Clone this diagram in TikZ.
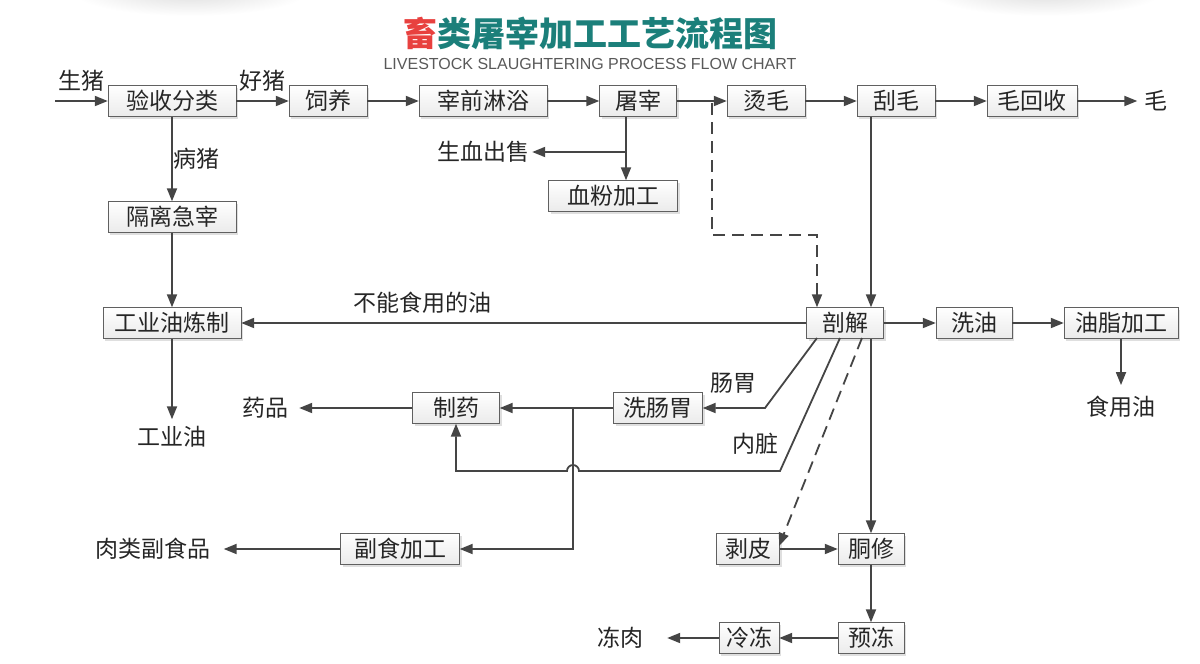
\documentclass[tikz,border=0pt]{standalone}
\usepackage{fontspec}
\usepackage{tikz}
\usetikzlibrary{positioning,shapes,shadows,arrows.meta}
\usepackage{xcolor}
\setmainfont{Noto Sans CJK SC}
\newfontfamily\latinsans{Liberation Sans}
\definecolor{linegray}{HTML}{454545}
\definecolor{titleteal}{HTML}{1B7F7A}
\definecolor{titlered}{HTML}{E8413F}
\tikzstyle{proc}=[rectangle, draw=gray!75!black, top color=white, bottom color=gray!16,
drop shadow={shadow xshift=2pt, shadow yshift=-2pt, opacity=.25},
minimum height=31pt, inner sep=0pt, text=black!85, font=\fontsize{23}{23}\selectfont]
\tikzstyle{endtext}=[inner sep=7pt, text=black!85, font=\fontsize{23}{23}\selectfont]
\tikzstyle{lbl}=[text=black!85, font=\fontsize{23}{23}\selectfont]
\tikzstyle{flow}=[draw=linegray, line width=1.8pt, -{Triangle[length=13pt,width=10pt]}]
\tikzstyle{dflow}=[flow, dash pattern=on 12pt off 7pt]

\begin{document}
\begin{tikzpicture}[x=1pt,y=-1pt]
\useasboundingbox (0,0) rectangle (1200,664);
% faint shadows on top
\shade[inner color=gray!28, outer color=white] (190,-10) ellipse [x radius=120, y radius=26];
\shade[inner color=gray!28, outer color=white] (1045,-10) ellipse [x radius=120, y radius=26];

% title
\node (title) at (590,33) {\fontsize{34}{34}\selectfont\bfseries
  \textcolor{titlered}{畜}\textcolor{titleteal}{类屠宰加工工艺流程图}};
\node (subtitle) at (590,64) {\latinsans\fontsize{16}{16}\selectfont\color{black!65}
  LIVESTOCK SLAUGHTERING PROCESS FLOW CHART};

% main line
\node (check)[proc, minimum width=128pt] at (172,101) {验收分类};
\node (feed)[proc, minimum width=78pt] at (328,101) {饲养};
\node (shower)[proc, minimum width=128pt] at (483,101) {宰前淋浴};
\node (kill)[proc, minimum width=77pt] at (638,101) {屠宰};
\node (scald)[proc, minimum width=78pt] at (766,101) {烫毛};
\node (scrape)[proc, minimum width=78pt] at (896,101) {刮毛};
\node (hairrec)[proc, minimum width=90pt] at (1032,101) {毛回收};
\node (hair)[endtext] at (1156,101) {毛};

% blood
\node (blood)[endtext, inner sep=3pt] at (483,152) {生血出售};
\node (bloodmeal)[proc, minimum width=129pt] at (613,196) {血粉加工};

% sick pigs
\node (isolate)[proc, minimum width=128pt] at (172,217) {隔离急宰};
\node (indoil)[proc, minimum width=138pt] at (172,323) {工业油炼制};
\node (indoilout)[endtext] at (172,437) {工业油};

% splitting
\node (split)[proc, minimum width=77pt] at (845,323) {剖解};
\node (washoil)[proc, minimum width=76pt] at (974,323) {洗油};
\node (fatproc)[proc, minimum width=114pt] at (1121,323) {油脂加工};
\node (edible)[endtext, inner sep=11pt] at (1121,407) {食用油};

% offal
\node (washgut)[proc, minimum width=89pt] at (658,408) {洗肠胃};
\node (pharma)[proc, minimum width=87pt] at (456,408) {制药};
\node (drugs)[endtext, inner sep=11pt] at (265,408) {药品};
\node (offalfood)[proc, minimum width=119pt] at (400,549) {副食加工};
\node (byprod)[endtext, inner sep=13pt] at (153,549) {肉类副食品};

% carcass
\node (peel)[proc, minimum width=63pt] at (748,549) {剥皮};
\node (trim)[proc, minimum width=66pt] at (871,549) {胴修};
\node (prefreeze)[proc, minimum width=66pt] at (871,638) {预冻};
\node (freeze)[proc, minimum width=60pt] at (749,638) {冷冻};
\node (frozen)[endtext, inner sep=24pt] at (620,638) {冻肉};

% bends
\coordinate (pig) at (55,101);
\coordinate (kb) at (626,152);
\coordinate (d0) at (712,103);
\coordinate (d1) at (712,235);
\coordinate (d2) at (817,235);
\coordinate (g0) at (817,338);
\coordinate (g1) at (765,408);
\coordinate (v0) at (840,338);
\coordinate (v1) at (780,471);
\coordinate (jn) at (573,408);
\coordinate (jump) at (579,471);
\coordinate (s0) at (862,338);
\coordinate (s1) at (779,546);

% connectors
\draw[flow] (pig) -- node[lbl, above=5pt]{生猪} (check);
\draw[flow] (check) -- node[lbl, above=5pt]{好猪} (feed);
\draw[flow] (feed) -- (shower);
\draw[flow] (shower) -- (kill);
\draw[flow] (kill) -- (scald);
\draw[flow] (scald) -- (scrape);
\draw[flow] (scrape) -- (hairrec);
\draw[flow] (hairrec) -- (hair);
\draw[flow] (kb |- kill.south) -- (kb |- bloodmeal.north);
\draw[flow] (kb) -- (blood);
\draw[flow] (check) -- node[lbl, right, inner sep=1pt]{病猪} (isolate);
\draw[flow] (isolate) -- (indoil);
\draw[flow] (indoil) -- (indoilout);
\draw[dflow] (d0) -- (d1) -- (d2) -- (split.north -| d2);
\draw[flow] (scrape.south -| trim) -- (split.north -| trim);
\draw[flow] (split) -- node[lbl, above=5pt, pos=.68]{不能食用的油} (indoil);
\draw[flow] (split) -- (washoil);
\draw[flow] (washoil) -- (fatproc);
\draw[flow] (fatproc) -- (edible);
\draw[flow] (g0) -- (g1) -- (washgut);
\node[lbl] at (733,383) {肠胃};
\draw[flow] (washgut) -- (pharma);
\draw[flow] (jn) |- (offalfood);
\draw[flow] (pharma) -- (drugs);
\draw[flow] (v0) -- (v1) -- (jump) arc [start angle=0, end angle=180, radius=6pt]
  -- (pharma |- v1) -- (pharma);
\node[lbl] at (755,444) {内脏};
\draw[dflow] (s0) -- (s1);
\draw[flow] (split.south -| trim) -- (trim);
\draw[flow] (peel) -- (trim);
\draw[flow] (trim) -- (prefreeze);
\draw[flow] (prefreeze) -- (freeze);
\draw[flow] (freeze) -- (frozen);
\draw[flow] (offalfood) -- (byprod);
\end{tikzpicture}
\end{document}
